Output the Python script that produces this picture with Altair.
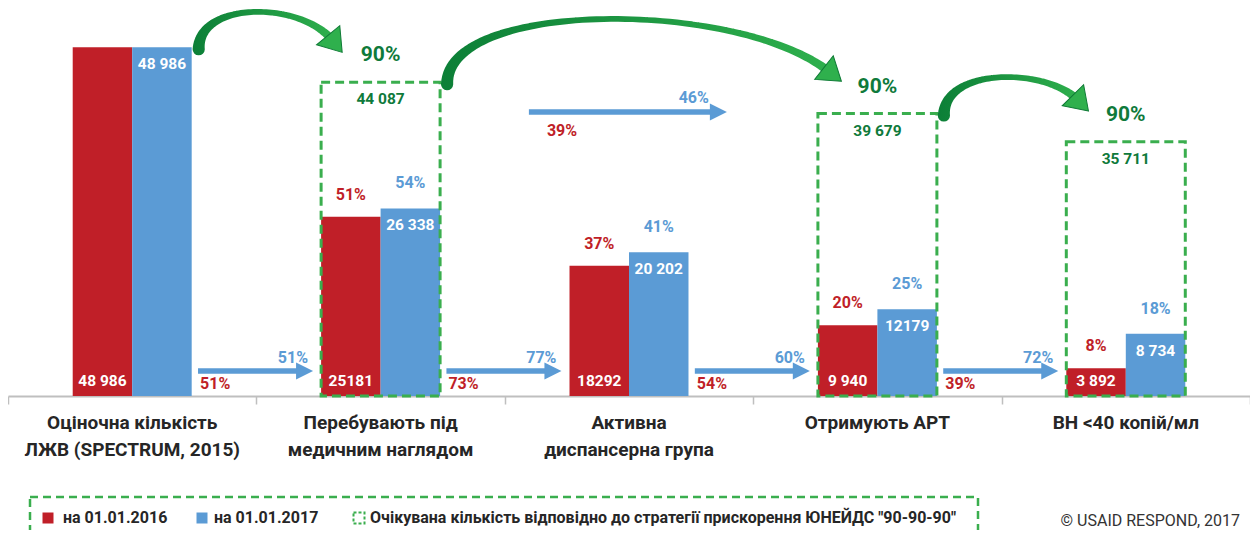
import math
import altair as alt
import pandas as pd

# ---------------- data ----------------
categories = [
    "Оціночна кількість\nЛЖВ (SPECTRUM, 2015)",
    "Перебувають під\nмедичним наглядом",
    "Активна\nдиспансерна група",
    "Отримують АРТ",
    "ВН <40 копій/мл",
]
series = ["на 01.01.2016", "на 01.01.2017"]
values_2016 = [48986, 25181, 18292, 9940, 3892]
values_2017 = [48986, 26338, 20202, 12179, 8734]
labels_2016 = ["48 986", "25181", "18292", "9 940", "3 892"]
labels_2017 = ["48 986", "26 338", "20 202", "12179", "8 734"]
share_2016 = ["", "51%", "37%", "20%", "8%"]
share_2017 = ["", "54%", "41%", "25%", "18%"]
target_index = [1, 3, 4]
target_values = [44087, 39679, 35711]
target_labels = ["44 087", "39 679", "35 711"]
target_share = ["90%", "90%", "90%"]
step_2016 = ["51%", "73%", "54%", "39%"]
step_2017 = ["51%", "77%", "60%", "72%"]
art_index = 2
art_2016 = "39%"
art_2017 = "46%"
legend_target = 'Очікувана кількість відповідно до стратегії прискорення ЮНЕЙДС "90-90-90"'
credit = "© USAID RESPOND, 2017"

# ---------------- layout / style ----------------
W, H = 1242, 388
YMAX = 54500
NCAT = len(categories)
PXU = W / NCAT
PXV = H / YMAX
BW = 0.2395
centers = [i + 0.5 for i in range(NCAT)]

RED = "#c01f28"
BLUE = "#5b9bd5"
GREEN_BOX = "#3aae4e"
GREEN_TXT = "#0f7a3b"
FONT = "Roboto"
DARK = "#262626"

AXIS = alt.Axis(values=list(range(NCAT + 1)), labels=False, title=None, grid=False,
                ticks=True, tickSize=8, tickColor="#bfbfbf", tickWidth=1.5,
                domainColor="#bfbfbf", domainWidth=2)
XS = alt.Scale(domain=[0, NCAT], nice=False, zero=False)
YS = alt.Scale(domain=[0, YMAX], nice=False)


def X(f):
    return alt.X(f, type="quantitative", scale=XS, axis=AXIS)


def Y(f):
    return alt.Y(f, type="quantitative", scale=YS, axis=None)


# bars
bars_df = pd.DataFrame({
    "x": [c - BW for c in centers] + centers,
    "x2": centers + [c + BW for c in centers],
    "value": values_2016 + values_2017,
    "zero": 0,
    "series": [series[0]] * NCAT + [series[1]] * NCAT,
})
bars = alt.Chart(bars_df).mark_rect().encode(
    x=X("x"), x2="x2", y=Y("value"), y2="zero",
    color=alt.Color("series:N", scale=alt.Scale(domain=series, range=[RED, BLUE]), legend=None),
)

# target boxes
tgt_df = pd.DataFrame({
    "c": [centers[i] for i in target_index],
    "x": [centers[i] - BW for i in target_index],
    "x2": [centers[i] + BW for i in target_index],
    "value": target_values,
    "zero": 0,
    "label": target_labels,
    "share": target_share,
})
boxes = alt.Chart(tgt_df).mark_rect(fillOpacity=0, stroke=GREEN_BOX, strokeWidth=3,
                                    strokeDash=[9, 5]).encode(
    x=X("x"), x2="x2", y=Y("value"), y2="zero")
tgt_share_txt = alt.Chart(tgt_df).mark_text(font=FONT, fontSize=21, fontWeight="bold",
                                             color=GREEN_TXT, dy=-27, baseline="middle").encode(
    x=X("c"), y=Y("value"), text="share:N")
tgt_val_txt = alt.Chart(tgt_df).mark_text(font=FONT, fontSize=15.5, fontWeight="bold",
                                           color=GREEN_TXT, dy=17, baseline="middle").encode(
    x=X("c"), y=Y("value"), text="label:N")

# bar labels
red_df = pd.DataFrame({"x": [c - BW / 2 for c in centers], "value": values_2016, "zero": 0,
                       "label": labels_2016, "share": share_2016})
blue_df = pd.DataFrame({"x": [c + BW / 2 for c in centers], "value": values_2017, "zero": 0,
                        "label": labels_2017, "share": share_2017})
red_val = alt.Chart(red_df).mark_text(font=FONT, fontSize=15.5, fontWeight="bold", color="white",
                                      dy=-15, baseline="middle").encode(
    x=X("x"), y=Y("zero"), text="label:N")
blue_val = alt.Chart(blue_df).mark_text(font=FONT, fontSize=15.5, fontWeight="bold", color="white",
                                        dy=17, baseline="middle").encode(
    x=X("x"), y=Y("value"), text="label:N")
red_share = alt.Chart(red_df).mark_text(font=FONT, fontSize=16, fontWeight="bold", color=RED,
                                        dy=-22, baseline="middle").encode(
    x=X("x"), y=Y("value"), text="share:N")
blue_share = alt.Chart(blue_df).mark_text(font=FONT, fontSize=16, fontWeight="bold", color=BLUE,
                                          dy=-25, baseline="middle").encode(
    x=X("x"), y=Y("value"), text="share:N")

# straight blue arrows between categories
ARROW_V = 3500
HEAD = 8.5 / PXU
arr_df = pd.DataFrame({
    "x0": [centers[k] + 0.265 for k in range(NCAT - 1)],
    "tip": [centers[k + 1] - 0.272 for k in range(NCAT - 1)],
    "v": ARROW_V,
    "r": step_2016,
    "b": step_2017,
})
arr_df["hx"] = arr_df["tip"] - HEAD
arr_body = alt.Chart(arr_df).mark_rule(color=BLUE, strokeWidth=5.5).encode(
    x=X("x0"), x2="hx", y=Y("v"))
arr_head = alt.Chart(arr_df).mark_point(shape="M-1,-1L1,0L-1,1Z", filled=True, size=289,
                                        color=BLUE, opacity=1).encode(x=X("hx"), y=Y("v"))
arr_red = alt.Chart(arr_df).mark_text(font=FONT, fontSize=16, fontWeight="bold", color=RED,
                                      align="left", baseline="middle", dx=2, dy=13).encode(
    x=X("x0"), y=Y("v"), text="r:N")
arr_blue = alt.Chart(arr_df).mark_text(font=FONT, fontSize=16, fontWeight="bold", color=BLUE,
                                       align="right", baseline="middle", dx=-5, dy=-13).encode(
    x=X("tip"), y=Y("v"), text="b:N")

# long ART arrow
LONG_V = 39900
long_df = pd.DataFrame({"x0": [centers[art_index] - 0.403], "tip": [centers[art_index] + 0.394],
                        "v": [LONG_V], "r": [art_2016], "b": [art_2017]})
long_df["hx"] = long_df["tip"] - HEAD
long_body = alt.Chart(long_df).mark_rule(color=BLUE, strokeWidth=5.5).encode(
    x=X("x0"), x2="hx", y=Y("v"))
long_head = alt.Chart(long_df).mark_point(shape="M-1,-1L1,0L-1,1Z", filled=True, size=289,
                                          color=BLUE, opacity=1).encode(x=X("hx"), y=Y("v"))
long_red = alt.Chart(long_df).mark_text(font=FONT, fontSize=16, fontWeight="bold", color=RED,
                                        align="left", baseline="middle", dx=18, dy=19).encode(
    x=X("x0"), y=Y("v"), text="r:N")
long_blue = alt.Chart(long_df).mark_text(font=FONT, fontSize=16, fontWeight="bold", color=BLUE,
                                         align="right", baseline="middle", dx=-18, dy=-14).encode(
    x=X("tip"), y=Y("v"), text="b:N")

# curved green arrows (from bar/box top to next target box)
links = [
    (0, values_2017[0], target_index[0], target_values[0]),
    (target_index[0], target_values[0], target_index[1], target_values[1]),
    (target_index[1], target_values[1], target_index[2], target_values[2]),
]
trail_rows, head_rows = [], []
for aid, (i0, top0, i1, top1) in enumerate(links):
    sx = (centers[i0] + BW) * PXU + 7
    sy = H - top0 * PXV
    hx = (centers[i1] - 0.195) * PXU
    hy = H - top1 * PXV - 42
    span = hx - sx
    lift = 20 + 0.11 * span
    cy = sy - lift / 0.75
    p = [(sx, sy + 2), (sx + 0.0 * span, cy), (hx - 0.24 * span, cy), (hx, hy)]
    n = 70
    for j in range(n + 1):
        t = j / n
        a, b, c, d = (1 - t) ** 3, 3 * (1 - t) ** 2 * t, 3 * (1 - t) * t ** 2, t ** 3
        px = a * p[0][0] + b * p[1][0] + c * p[2][0] + d * p[3][0]
        py = a * p[0][1] + b * p[1][1] + c * p[2][1] + d * p[3][1]
        w = 4.2 + 8 * (1 - t) ** 3 + 4.5 * t ** 3
        trail_rows.append({"id": aid, "t": t, "x": px / PXU, "v": (H - py) / PXV, "w": w})
    dx, dy = p[3][0] - p[2][0], p[3][1] - p[2][1]
    ang = math.degrees(math.atan2(dx, -dy)) % 360
    head_rows.append({"x": hx / PXU, "v": (H - hy) / PXV, "angle": ang})

trail_df = pd.DataFrame(trail_rows)
head_df = pd.DataFrame(head_rows)
grad = alt.LinearGradient(gradient="linear", x1=0, y1=0, x2=1, y2=0,
                          stops=[alt.GradientStop(offset=0, color="#0c7f37"),
                                 alt.GradientStop(offset=1, color="#2fb04d")])
trails = alt.Chart(trail_df).mark_trail(color=grad).encode(
    x=X("x"), y=Y("v"), size=alt.Size("w:Q", scale=None), order="t:Q", detail="id:N")
heads = alt.Chart(head_df).mark_point(shape="M0,-1L0.95,0.4L-0.95,0.4Z", filled=True, size=1000,
                                      fill="#2fb04d", stroke="#0f7a36", strokeWidth=1,
                                      opacity=1).encode(
    x=X("x"), y=Y("v"), angle=alt.Angle("angle:Q", scale=None))

# category labels
cat_df = pd.DataFrame({"x": centers, "label": categories})
cat_txt = alt.Chart(cat_df).mark_text(font=FONT, fontSize=19, fontWeight="bold", color=DARK,
                                      baseline="top", lineBreak="\n", lineHeight=27).encode(
    x=X("x"), y=alt.value(H + 18), text="label:N")

# legend (manual)
one = pd.DataFrame({"k": [0]})
LY = 510
leg_border = alt.Chart(one).mark_rect(fillOpacity=0, stroke=GREEN_BOX, strokeWidth=2.5,
                                      strokeDash=[8, 5]).encode(
    x=alt.value(22), x2=alt.value(970), y=alt.value(489), y2=alt.value(560))
leg_red = alt.Chart(one).mark_point(shape="square", filled=True, size=121, color=RED, opacity=1).encode(
    x=alt.value(40), y=alt.value(LY))
leg_red_t = alt.Chart(one).mark_text(font=FONT, fontSize=16, fontWeight="bold", color=DARK,
                                     align="left", baseline="middle").encode(
    x=alt.value(55), y=alt.value(LY), text=alt.value(series[0]))
leg_blue = alt.Chart(one).mark_point(shape="square", filled=True, size=121, color=BLUE, opacity=1).encode(
    x=alt.value(194), y=alt.value(LY))
leg_blue_t = alt.Chart(one).mark_text(font=FONT, fontSize=16, fontWeight="bold", color=DARK,
                                      align="left", baseline="middle").encode(
    x=alt.value(206), y=alt.value(LY), text=alt.value(series[1]))
leg_tgt = alt.Chart(one).mark_point(shape="square", filled=False, size=121, stroke=GREEN_BOX,
                                    strokeWidth=2, strokeDash=[3, 2], opacity=1).encode(
    x=alt.value(351), y=alt.value(LY))
leg_tgt_t = alt.Chart(one).mark_text(font=FONT, fontSize=16, fontWeight="bold", color=DARK,
                                     align="left", baseline="middle").encode(
    x=alt.value(362), y=alt.value(LY), text=alt.value(legend_target))
credit_t = alt.Chart(one).mark_text(font=FONT, fontSize=16, color="#333333",
                                    align="right", baseline="middle").encode(
    x=alt.value(1232), y=alt.value(513), text=alt.value(credit))

chart = alt.layer(
    bars, boxes, red_val, blue_val, red_share, blue_share, tgt_share_txt, tgt_val_txt,
    arr_body, arr_head, arr_red, arr_blue,
    long_body, long_head, long_red, long_blue,
    trails, heads, cat_txt,
    leg_border, leg_red, leg_red_t, leg_blue, leg_blue_t, leg_tgt, leg_tgt_t, credit_t,
).properties(
    width=W, height=H,
    autosize=alt.AutoSizeParams(type="none"),
    padding={"left": 0, "top": 0, "right": 0, "bottom": 134},
).configure_view(stroke=None)

chart.save("out.html", embed_options={"renderer": "svg", "actions": False})
